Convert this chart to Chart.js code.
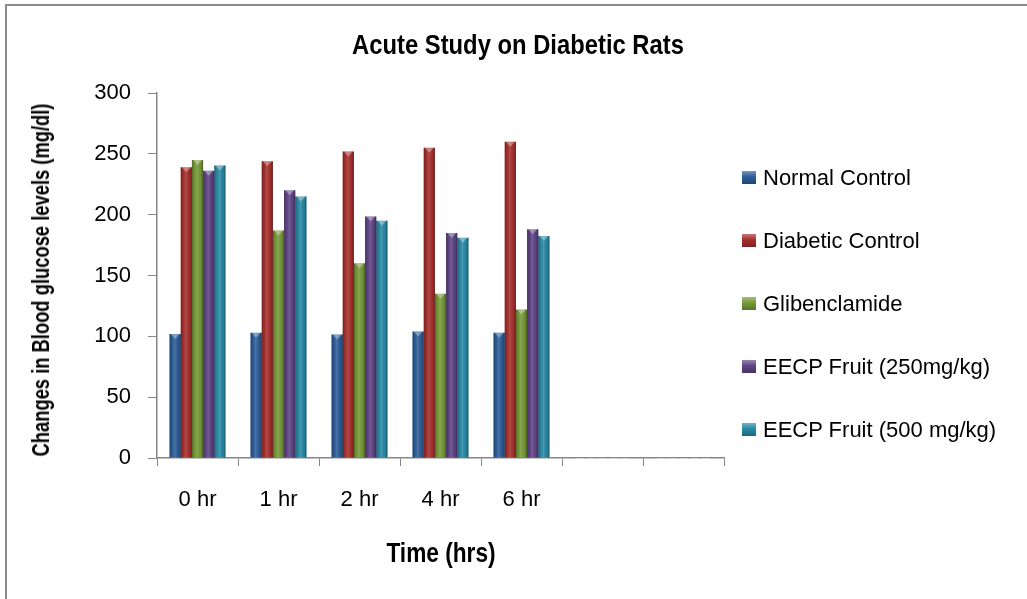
<!DOCTYPE html>
<html>
<head>
<meta charset="utf-8">
<script src="https://cdn.jsdelivr.net/npm/chart.js@4.4.1/dist/chart.umd.min.js"></script>
<style>
  body { margin: 0; background: #fff; }
  #wrap { position: relative; width: 1027px; height: 599px; overflow: hidden; }
  #frame { position: absolute; left: 5px; top: 4px; width: 1100px; height: 700px;
           border-left: 2px solid #8c8c8c; border-top: 2px solid #8c8c8c; }
  #chart { position: absolute; left: 0; top: 0; }
  .label { position: absolute; width: 600px; text-align: center; white-space: nowrap; color: #000;
           font-family: "Liberation Sans", Arial, sans-serif; font-weight: bold; }
  #title { left: 218px; top: 28px; line-height: 34px; font-size: 28px; transform: scaleX(0.85); }
  #xtitle { left: 141px; top: 537px; line-height: 32px; font-size: 27px; transform: scaleX(0.84); }
  #ytitle { left: -259px; top: 266px; line-height: 28px; font-size: 24px; transform: rotate(-90deg) scaleX(0.765); }
  #legend { position: absolute; left: 742px; top: 146px; }
  .item { height: 63px; display: flex; align-items: center;
          font: 22px "Liberation Sans", Arial, sans-serif; color: #000; white-space: nowrap; }
  .box { width: 14px; height: 13px; margin-right: 7px; box-sizing: border-box; }
</style>
</head>
<body>
<div id="wrap">
  <div id="frame"></div>
  <canvas id="chart" width="1027" height="599"></canvas>
  <div id="title" class="label">Acute Study on Diabetic Rats</div>
  <div id="xtitle" class="label">Time (hrs)</div>
  <div id="ytitle" class="label">Changes in Blood glucose levels (mg/dl)</div>
  <div id="legend"></div>
</div>
<script>
const timeLabels = ['0 hr', '1 hr', '2 hr', '4 hr', '6 hr', '', ''];
const seriesNames = ['Normal Control', 'Diabetic Control', 'Glibenclamide', 'EECP Fruit (250mg/kg)', 'EECP Fruit (500 mg/kg)'];
const normalControl = [102, 103, 101.5, 104, 103, null, null];
const diabeticControl = [239, 244, 252, 255, 260, null, null];
const glibenclamide = [245, 187, 160, 135, 122, null, null];
const eecp250 = [236, 220, 198.5, 185, 188, null, null];
const eecp500 = [240.5, 215, 195, 181, 182.5, null, null];
const yTicks = [0, 50, 100, 150, 200, 250, 300];
const colors = ['#2b5d99', '#a62f2c', '#779a38', '#5f4486', '#2889a6'];

const regular = '"Liberation Sans", Arial, sans-serif';
const axisGrey = '#868686';

// 3D-ish shading on top of each bar
const barShade = {
    id: 'barShade',
    afterDatasetsDraw(chart) {
        const ctx = chart.ctx;
        ctx.save();
        chart.data.datasets.forEach((ds, i) => {
            chart.getDatasetMeta(i).data.forEach(bar => {
                const { x, y, base, width } = bar.getProps(['x', 'y', 'base', 'width'], true);
                if (!isFinite(y) || !isFinite(base)) return;
                const l = x - width / 2;
                const g = ctx.createLinearGradient(l, 0, l + width, 0);
                g.addColorStop(0, 'rgba(0,0,0,0.35)');
                g.addColorStop(0.18, 'rgba(0,0,0,0.05)');
                g.addColorStop(0.45, 'rgba(255,255,255,0.14)');
                g.addColorStop(0.8, 'rgba(0,0,0,0.06)');
                g.addColorStop(1, 'rgba(0,0,0,0.4)');
                ctx.fillStyle = g;
                ctx.fillRect(l, y, width, base - y);
                ctx.fillStyle = 'rgba(255,255,255,0.35)';
                ctx.beginPath();
                ctx.moveTo(l + 1, y);
                ctx.lineTo(l + width - 1, y);
                ctx.lineTo(x, y + 5);
                ctx.closePath();
                ctx.fill();
            });
        });
        ctx.restore();
    }
};

const datasets = [normalControl, diabeticControl, glibenclamide, eecp250, eecp500].map((vals, i) => ({
    label: seriesNames[i],
    data: vals,
    backgroundColor: colors[i],
    borderWidth: 0,
    barPercentage: 1,
    categoryPercentage: 0.69
}));

const chart = new Chart(document.getElementById('chart'), {
    type: 'bar',
    data: { labels: timeLabels, datasets },
    options: {
        responsive: false,
        animation: false,
        devicePixelRatio: 1,
        layout: { padding: { left: 0, right: 303, top: 93, bottom: 0 } },
        plugins: {
            legend: { display: false },
            title: { display: false },
            tooltip: { enabled: false }
        },
        scales: {
            x: {
                grid: { drawOnChartArea: false, drawTicks: true, tickLength: 8, color: axisGrey, offset: true },
                border: { color: axisGrey, width: 1.5 },
                ticks: { color: '#000', font: { family: regular, size: 22 }, padding: 21, maxRotation: 0 },
                afterFit: s => { s.height = 141; }
            },
            y: {
                min: 0, max: 300,
                afterBuildTicks: s => { s.ticks = yTicks.map(v => ({ value: v })); },
                grid: { drawOnChartArea: false, drawTicks: true, tickLength: 9, color: axisGrey },
                border: { color: axisGrey, width: 1.5 },
                ticks: { color: '#000', font: { family: regular, size: 22 }, padding: 17 },
                afterFit: s => { s.width = 157; }
            }
        }
    },
    plugins: [barShade]
});

// html legend built from the datasets
const legendEl = document.getElementById('legend');
chart.data.datasets.forEach(ds => {
    const row = document.createElement('div');
    row.className = 'item';
    const box = document.createElement('span');
    box.className = 'box';
    box.style.background = 'linear-gradient(180deg, rgba(255,255,255,0.35) 0%, rgba(255,255,255,0) 45%, rgba(0,0,0,0.25) 100%), ' + ds.backgroundColor;
    row.appendChild(box);
    row.appendChild(document.createTextNode(ds.label));
    legendEl.appendChild(row);
});
</script>
</body>
</html>
